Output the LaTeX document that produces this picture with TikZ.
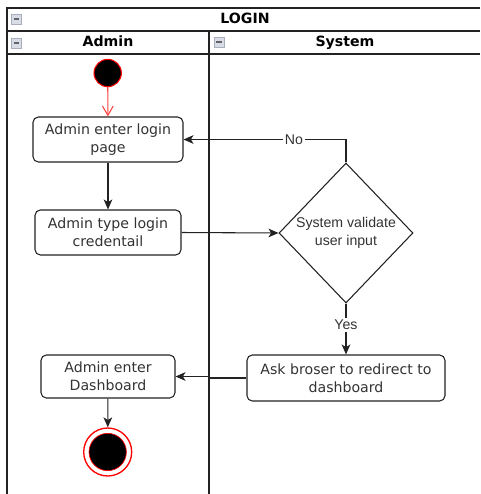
\documentclass[tikz,border=0pt]{standalone}
\usepackage{fontspec}
\setmainfont{DejaVu Sans}
\newfontfamily\arialf{Liberation Sans}
\usetikzlibrary{shapes.geometric,arrows.meta}
\definecolor{txt}{HTML}{333333}
\definecolor{ln}{HTML}{222222}
\definecolor{redc}{HTML}{FF0000}
\definecolor{reda}{HTML}{FF4444}
\definecolor{iconfill}{HTML}{D8DCE6}
\definecolor{iconedge}{HTML}{A8AEBB}
\tikzset{
  frame/.style={draw=ln, line width=1.1pt},
  actbox/.style={draw=ln, line width=0.8pt, rounded corners=4pt, fill=white,
    align=center, text=txt, font=\fontsize{10.6}{13.2}\selectfont, inner sep=0pt},
  decis/.style={draw=ln, line width=0.8pt, diamond, fill=white, inner sep=0pt},
  lbl/.style={font=\arialf\fontsize{10.6}{13.2}\selectfont, text=txt, align=center},
  edgelbl/.style={font=\arialf\fontsize{10.6}{13.2}\selectfont, text=txt, fill=white, inner sep=1.5pt},
  flow/.style={draw=ln, line width=0.8pt, -{Stealth[length=7.5pt,width=6.5pt,inset=2pt]}},
  hdr/.style={font=\bfseries\fontsize{10.6}{13}\selectfont, text=black, text height=7.8pt, text depth=2.2pt},
  icon/.style={draw=iconedge, fill=iconfill, minimum size=7.5pt, inner sep=0pt, line width=0.5pt},
}
\begin{document}
\begin{tikzpicture}[x=0.75pt, y=-0.75pt]
\useasboundingbox (0,0) rectangle (480,494);
\begin{scope}
\clip (0,0) rectangle (480,494);
% pool frame
\draw[frame] (480,8) -- (7,8) -- (7,500);
\draw[frame] (7,31) -- (480,31);
\draw[frame] (7,54) -- (480,54);
\draw[frame] (209,31) -- (209,500);
\end{scope}
% headers
\node[hdr] (title) at (245,19.5) {LOGIN};
\node[hdr] (laneA) at (108,43) {Admin};
\node[hdr] (laneS) at (345,43) {System};
% collapse icons
\node[icon] (ic1) at (16.5,19) {};
\draw[ln!70, line width=1.4pt] ([xshift=-2.2pt]ic1.center) -- ([xshift=2.2pt]ic1.center);
\node[icon] (ic2) at (16.5,43) {};
\draw[ln!70, line width=1.4pt] ([xshift=-2.2pt]ic2.center) -- ([xshift=2.2pt]ic2.center);
\node[icon] (ic3) at (219,42) {};
\draw[ln!70, line width=1.4pt] ([xshift=-2.2pt]ic3.center) -- ([xshift=2.2pt]ic3.center);
% start
\node[circle, fill=black, draw=redc, line width=0.8pt, minimum size=20.5pt, inner sep=0pt] (start) at (107.7,73) {};
% activities
\node[actbox, minimum width=112.5pt, minimum height=33.75pt] (b1) at (108,139.5) {Admin enter login\\page};
\node[actbox, minimum width=109.5pt, minimum height=33.75pt] (b2) at (108,232.5) {Admin type login\\credentail};
\node[decis, minimum width=100.5pt, minimum height=105pt] (d) at (346,233) {};
\node[lbl] (dt) at (346,233) {System validate\\user input};
\node[actbox, minimum width=148.5pt, minimum height=34.5pt] (b3) at (346,378) {Ask broser to redirect to\\dashboard};
\node[actbox, minimum width=100.5pt, minimum height=32.25pt] (b4) at (108,376.5) {Admin enter\\Dashboard};
% end
\node[circle, draw=redc, line width=1pt, fill=white, minimum size=36pt, inner sep=0pt] (endo) at (107.7,452) {};
\node[circle, fill=black, draw=redc, line width=0.5pt, minimum size=28pt, inner sep=0pt] (endi) at (107.7,452) {};
% connectors
\draw[draw=reda, line width=0.8pt, -{Straight Barb[length=7pt,width=8pt]}] (start) -- (b1);
\draw[flow] (b1) -- (b2);
\draw[flow] (b2.east) -- (d.west);
\draw[flow] (d.north) |- (b1.east) node[edgelbl, pos=0.66] (no) {No};
\draw[flow] (d.south) -- (b3.north) node[edgelbl, pos=0.42] (yes) {Yes};
\draw[flow] (b3.west) -- ++(-37,0) coordinate (jog) |- (b4.east);
\draw[flow] (b4) -- (endo);
\end{tikzpicture}
\end{document}
